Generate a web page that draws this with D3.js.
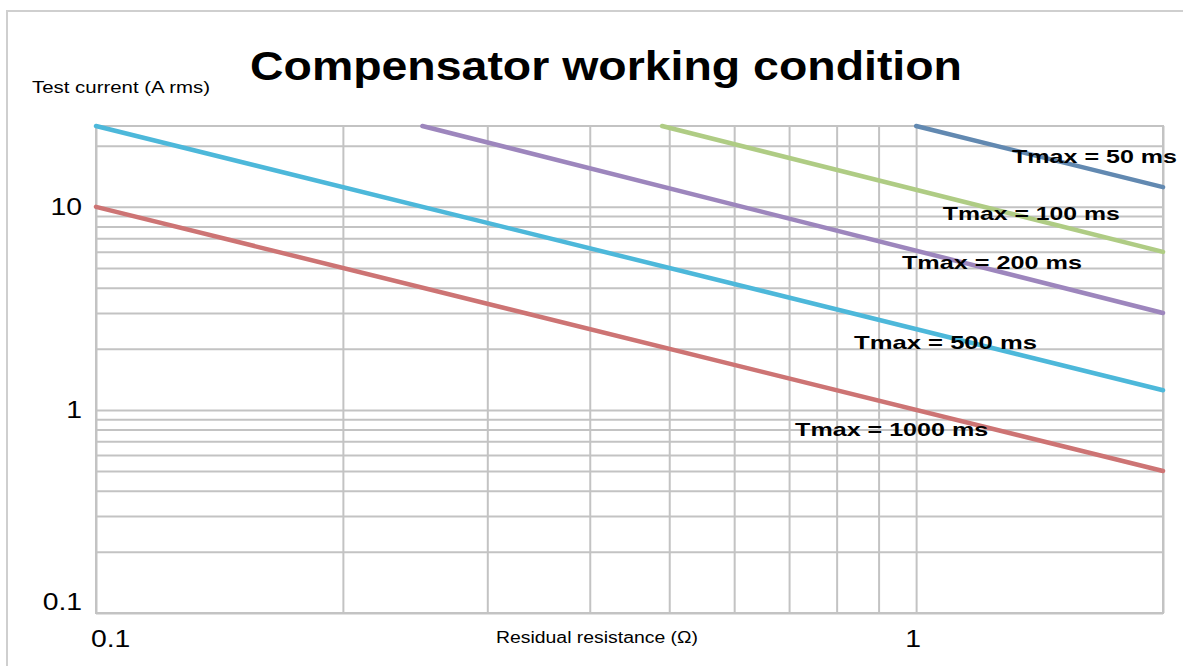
<!DOCTYPE html>
<html>
<head>
<meta charset="utf-8">
<script src="https://cdn.jsdelivr.net/npm/d3@7"></script>
<style>
    body { margin: 0; background: #fff; }
    svg { display: block; }
    text { font-family: "Liberation Sans", Arial, Helvetica, sans-serif; fill: #000; }
</style>
</head>
<body>
<svg id="chart"></svg>
<script>
// values
var tmaxLabels = ['Tmax = 1000 ms', 'Tmax = 500 ms', 'Tmax = 200 ms', 'Tmax = 100 ms', 'Tmax = 50 ms'];
var startResistance = [0.1, 0.1, 0.25, 0.49, 1.0];
var startCurrent = [10, 25, 25, 25, 25];
var endResistance = [2, 2, 2, 2, 2];
var endCurrent = [0.5, 1.25, 3.0, 6.0, 12.5];
// where each Tmax label starts, in chart units (ohm, A)
var labelResistance = [0.712, 0.84, 0.961, 1.078, 1.309];
var labelCurrent = [0.744, 1.995, 4.94, 8.62, 16.44];
var resistanceTickLabels = [0.1, 1];
var currentTickLabels = [0.1, 1, 10];

var lineColors = ['#cd7474', '#4db8da', '#9d86bd', '#afcc84', '#6289b1'];
var labelWidths = [193, 183, 180, 177, 165];

var width = 1183, height = 666;
var margin = { left: 96, top: 126, right: 1163, bottom: 613 };

var svg = d3.select('svg#chart')
    .attr('width', width)
    .attr('height', height)
    .attr('viewBox', '0 0 ' + width + ' ' + height);

// light frame around the whole figure (runs off right and bottom)
svg.append('rect')
    .attr('x', 7).attr('y', 11)
    .attr('width', 1300).attr('height', 800)
    .style('fill', 'none')
    .style('stroke', '#cfcfcf')
    .style('stroke-width', 2);

var x = d3.scaleLog().domain([0.1, 2]).range([margin.left, margin.right]);
var y = d3.scaleLog().domain([0.1, 25]).range([margin.bottom, margin.top]);

// grid through the axes, labels drawn separately
var gridX = svg.append('g')
    .attr('transform', 'translate(0,' + margin.bottom + ')')
    .call(d3.axisBottom(x).tickSize(-(margin.bottom - margin.top)).tickFormat(''));
var gridY = svg.append('g')
    .attr('transform', 'translate(' + margin.left + ',0)')
    .call(d3.axisLeft(y).tickSize(-(margin.right - margin.left)).tickFormat(''));
[gridX, gridY].forEach(function(g){
    g.select('.domain').remove();
    g.selectAll('line').style('stroke', '#c3c3c3').style('stroke-width', 2);
});

svg.append('rect')
    .attr('x', margin.left).attr('y', margin.top)
    .attr('width', margin.right - margin.left)
    .attr('height', margin.bottom - margin.top)
    .style('fill', 'none')
    .style('stroke', '#c3c3c3')
    .style('stroke-width', 2);

// Tmax curves
var line = d3.line().x(function(d){ return x(d[0]); }).y(function(d){ return y(d[1]); });
tmaxLabels.forEach(function(name, i){
    svg.append('path')
        .datum([[startResistance[i], startCurrent[i]], [endResistance[i], endCurrent[i]]])
        .attr('d', line)
        .style('fill', 'none')
        .style('stroke', lineColors[i])
        .style('stroke-width', 4.5)
        .style('stroke-linecap', 'round');
});

tmaxLabels.forEach(function(name, i){
    svg.append('text')
        .attr('x', x(labelResistance[i]))
        .attr('y', y(labelCurrent[i]))
        .attr('textLength', labelWidths[i])
        .attr('lengthAdjust', 'spacingAndGlyphs')
        .style('font-size', '19px')
        .style('font-weight', 'bold')
        .text(name);
});

// tick labels
var tickStretch = 1.18;
currentTickLabels.forEach(function(v, i){
    var ty = i === 0 ? y(v) - 3 : y(v) + 8;
    svg.append('text')
        .attr('transform', 'translate(82,' + ty + ') scale(' + tickStretch + ',1)')
        .attr('text-anchor', 'end')
        .style('font-size', '24px')
        .text(v);
});
resistanceTickLabels.forEach(function(v, i){
    var tx = i === 0 ? x(v) - 5 : x(v) - 3;
    svg.append('text')
        .attr('transform', 'translate(' + tx + ',647) scale(' + tickStretch + ',1)')
        .attr('text-anchor', i === 0 ? 'start' : 'middle')
        .style('font-size', '24px')
        .text(v);
});

// titles
svg.append('text')
    .attr('x', 250).attr('y', 80)
    .attr('textLength', 712)
    .attr('lengthAdjust', 'spacingAndGlyphs')
    .style('font-size', '41px')
    .style('font-weight', 'bold')
    .text('Compensator working condition');

svg.append('text')
    .attr('x', 32).attr('y', 93)
    .attr('textLength', 178)
    .attr('lengthAdjust', 'spacingAndGlyphs')
    .style('font-size', '16px')
    .text('Test current (A rms)');

svg.append('text')
    .attr('x', 496).attr('y', 643)
    .attr('textLength', 202)
    .attr('lengthAdjust', 'spacingAndGlyphs')
    .style('font-size', '16px')
    .text('Residual resistance (Ω)');
</script>
</body>
</html>
